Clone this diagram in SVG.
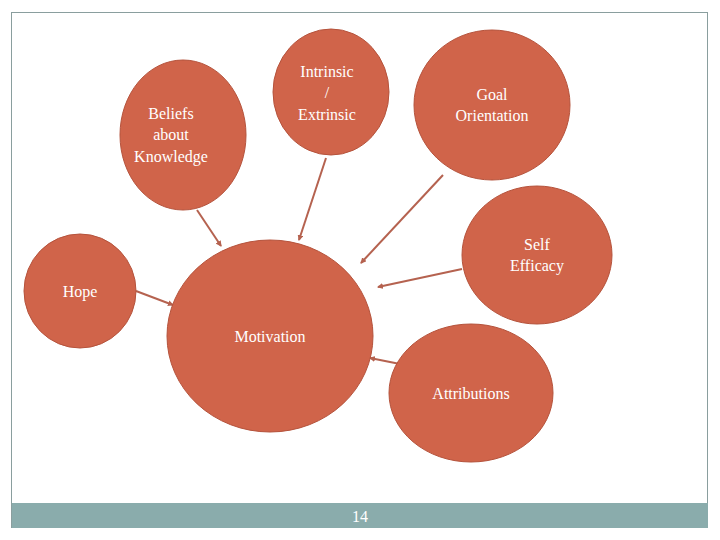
<svg xmlns="http://www.w3.org/2000/svg" width="720" height="540" viewBox="0 0 720 540">
<defs>
<style>
.n{fill:#D0644A;stroke:#B5533C;stroke-width:1}
.t{font-family:"Liberation Serif",serif;font-size:16px;fill:#fff;text-anchor:middle}
.c{stroke:#B5624F;stroke-width:2;fill:none;marker-end:url(#a)}
</style>
<marker id="a" markerWidth="6" markerHeight="6" refX="5" refY="3" orient="auto" markerUnits="userSpaceOnUse"><path d="M0,0L6,3L0,6z" fill="#B5624F"/></marker>
</defs>
<rect x="0" y="0" width="720" height="540" fill="#fff"/>
<rect x="11.5" y="12.5" width="696" height="515" fill="none" stroke="#8A9E9E"/>
<rect x="12" y="503" width="696" height="25" fill="#8AACAC"/>
<text x="360" y="522" font-family="Liberation Serif,serif" font-size="16" fill="#fff" text-anchor="middle">14</text>
<g id="connectors">
<line class="c" x1="197" y1="210" x2="221" y2="246"/>
<line class="c" x1="326" y1="158" x2="299" y2="240"/>
<line class="c" x1="443" y1="175" x2="361" y2="263"/>
<line class="c" x1="462" y1="269" x2="378" y2="287"/>
<line class="c" x1="136" y1="291" x2="173" y2="305"/>
<line class="c" x1="400" y1="364" x2="370" y2="358"/>
</g>
<g id="beliefs"><ellipse class="n" cx="183" cy="135" rx="63" ry="75"/><text class="t" x="171" y="119">Beliefs</text><text class="t" x="171" y="140">about</text><text class="t" x="171" y="162">Knowledge</text></g>
<g id="intrinsic"><ellipse class="n" cx="331" cy="92" rx="58" ry="63"/><text class="t" x="327" y="77">Intrinsic</text><text class="t" x="327" y="98">/</text><text class="t" x="327" y="120">Extrinsic</text></g>
<g id="goal"><ellipse class="n" cx="492" cy="105" rx="78" ry="75"/><text class="t" x="492" y="100">Goal</text><text class="t" x="492" y="121">Orientation</text></g>
<g id="self"><ellipse class="n" cx="537" cy="255" rx="75" ry="69"/><text class="t" x="537" y="250">Self</text><text class="t" x="537" y="271">Efficacy</text></g>
<g id="hope"><ellipse class="n" cx="80" cy="291" rx="56" ry="57"/><text class="t" x="80" y="297">Hope</text></g>
<g id="motivation"><ellipse class="n" cx="270" cy="336" rx="103" ry="96"/><text class="t" x="270" y="342">Motivation</text></g>
<g id="attributions"><ellipse class="n" cx="471" cy="393" rx="82" ry="69"/><text class="t" x="471" y="399">Attributions</text></g>
</svg>
